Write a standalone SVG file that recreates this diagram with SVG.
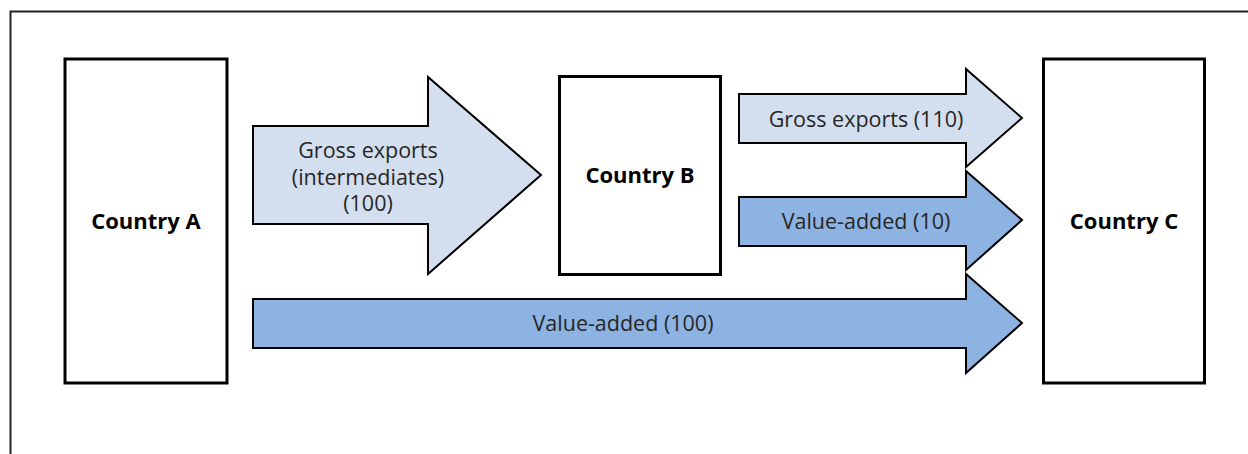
<svg xmlns="http://www.w3.org/2000/svg" width="1248" height="454" viewBox="0 0 1248 454">
<style>
.box{fill:#fff;stroke:#000;stroke-width:3}
.light{fill:#D3DEEF;stroke:#000;stroke-width:2;stroke-linejoin:miter}
.dark{fill:#8DB3E2;stroke:#000;stroke-width:2;stroke-linejoin:miter}
.lbl{font-family:"Open Sans","Noto Sans","Liberation Sans",sans-serif;font-size:21.5px;fill:#262626;text-anchor:middle}
.cty{font-family:"Open Sans","Noto Sans","Liberation Sans",sans-serif;font-size:22px;font-weight:bold;fill:#000;text-anchor:middle}
</style>
<rect width="1248" height="454" fill="#fff"/>
<path d="M10.5,454 V11.5 H1248" fill="none" stroke="#222" stroke-width="2"/>
<g id="connectors">
<g id="arrow-gross-intermediates">
<polygon class="light" points="253,126 428,126 428,77 541,175 428,274 428,224 253,224"/>
<text class="lbl" x="368" y="158">Gross exports</text>
<text class="lbl" x="368" y="185">(intermediates)</text>
<text class="lbl" x="368" y="211">(100)</text>
</g>
<g id="arrow-gross-110">
<polygon class="light" points="739,94 966,94 966,69 1022,118 966,167 966,143 739,143"/>
<text class="lbl" x="866" y="127">Gross exports (110)</text>
</g>
<g id="arrow-va-10">
<polygon class="dark" points="739,197 966,197 966,171 1022,220 966,270 966,246 739,246"/>
<text class="lbl" x="866" y="229">Value-added (10)</text>
</g>
<g id="arrow-va-100">
<polygon class="dark" points="253,299 966,299 966,274 1022,323 966,373 966,348 253,348"/>
<text class="lbl" x="623" y="331">Value-added (100)</text>
</g>
</g>
<g id="country-a">
<rect class="box" x="65" y="59" width="162" height="324"/>
<text class="cty" x="146" y="229">Country A</text>
</g>
<g id="country-b">
<rect class="box" x="559.5" y="76.5" width="161" height="198"/>
<text class="cty" x="640" y="183">Country B</text>
</g>
<g id="country-c">
<rect class="box" x="1043.5" y="59" width="161" height="324"/>
<text class="cty" x="1124" y="229">Country C</text>
</g>
</svg>
